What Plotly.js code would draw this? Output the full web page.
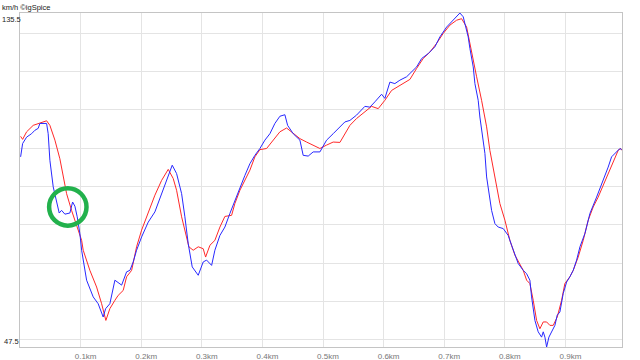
<!DOCTYPE html>
<html>
<head>
<meta charset="utf-8">
<script src="https://cdn.plot.ly/plotly-3.0.1.min.js"></script>
<style>html,body{margin:0;padding:0;background:#fff;}#chart{width:640px;height:360px;}</style>
</head>
<body>
<div id="chart"></div>
<script>
// Blue series: distance (km) and speed (km/h)
var blueDist = [0.001,0.0043,0.0109,0.0191,0.0246,0.0300,0.0328,0.0439,0.0465,0.0493,0.0548,0.0604,0.0647,0.0686,0.0741,0.0823,0.0868,0.0906,0.0944,0.0988,
0.1017,0.1099,0.1208,0.1290,0.1373,0.1413,0.1483,0.1566,0.1620,0.1677,0.1759,0.1814,0.1868,0.1924,0.2007,0.2116,0.2226,0.2337,0.2446,0.2512,
0.2584,0.2667,0.2721,0.2776,0.2842,0.2941,0.3023,0.3079,0.3162,0.3216,0.3299,0.3381,0.3464,0.3546,0.3629,0.3711,0.3794,0.3876,0.3959,0.4041,
0.4124,0.4206,0.4289,0.4371,0.4416,0.4508,0.4619,0.4673,0.4756,0.4838,0.4949,0.5059,0.5168,0.5279,0.5361,0.5444,0.5554,0.5691,0.5774,0.5857,
0.5967,0.6021,0.6104,0.6186,0.6269,0.6380,0.6462,0.6545,0.6627,0.6736,0.6847,0.6929,0.7040,0.7149,0.7259,0.7314,0.7396,0.7424,0.7479,0.7507,
0.7561,0.7589,0.7644,0.7672,0.7700,0.7726,0.7782,0.7837,0.7891,0.7974,0.8056,0.8112,0.8167,0.8221,0.8304,0.8360,0.8414,0.8442,0.8497,0.8551,
0.8607,0.8634,0.8662,0.8690,0.8728,0.8772,0.8827,0.8865,0.8909,0.8964,0.9020,0.9074,0.9129,0.9185,0.9240,0.9322,0.9405,0.9515,0.9624,0.9706,
0.9762,0.9845,0.9899,0.9927];
var blueSpeed = [97.6,101.1,102.8,103.7,104.6,105.1,106.4,106.4,103.7,96.7,89.7,85.3,82.8,83.5,82.5,82.8,85.7,84.6,81.8,77.4,
73.0,65.1,60.7,58.9,55.4,57.6,58.9,65.1,64.5,63.8,67.3,67.7,69.9,73.0,76.5,80.4,83.1,87.9,92.7,95.4,
93.2,87.9,81.8,74.7,68.6,66.4,69.9,70.4,69.0,73.0,76.9,79.1,82.7,86.2,89.7,92.7,95.8,98.0,99.8,102.0,
103.7,106.4,108.3,108.7,105.9,103.7,102.0,98.0,97.8,98.9,98.9,102.0,103.7,105.5,106.8,107.2,108.6,110.9,110.7,112.1,
114.1,113.0,117.3,116.9,117.8,118.7,120.0,121.3,123.5,124.8,126.6,129.2,131.8,133.6,135.5,134.5,129.2,126.2,121.3,116.9,
112.5,108.1,102.0,98.5,92.3,89.7,83.5,80.0,79.1,78.7,76.9,74.3,71.7,69.5,67.7,66.8,65.1,60.7,54.5,51.5,
50.1,51.5,50.1,47.5,50.1,51.5,53.2,55.9,56.7,61.6,64.6,66.0,67.7,70.4,73.9,77.4,82.7,87.0,91.4,94.9,
97.6,98.9,99.8,99.5];

// Red series: distance (km) and speed (km/h)
var redDist = [0.001,0.0043,0.0109,0.0218,0.0328,0.0439,0.0493,0.0576,0.0658,0.0713,0.0769,0.0851,0.0934,0.1017,0.1043,0.1153,0.1264,0.1347,0.1417,0.1483,
0.1566,0.1620,0.1703,0.1759,0.1842,0.1924,0.2007,0.2116,0.2226,0.2337,0.2446,0.2528,0.2584,0.2667,0.2749,0.2787,0.2858,0.2941,0.3023,0.3063,
0.3134,0.3216,0.3299,0.3381,0.3492,0.3546,0.3629,0.3711,0.3794,0.3876,0.3959,0.4069,0.4178,0.4289,0.4399,0.4508,0.4619,0.4729,0.4838,0.4949,
0.5059,0.5168,0.5279,0.5361,0.5444,0.5554,0.5691,0.5802,0.5911,0.6021,0.6132,0.6241,0.6351,0.6434,0.6545,0.6653,0.6764,0.6875,0.6983,0.7094,
0.7205,0.7287,0.7370,0.7452,0.7535,0.7617,0.7700,0.7754,0.7837,0.7919,0.8002,0.8084,0.8167,0.8249,0.8304,0.8360,0.8414,0.8469,0.8525,0.8579,
0.8634,0.8690,0.8744,0.8799,0.8865,0.8937,0.8991,0.9074,0.9129,0.9211,0.9294,0.9376,0.9459,0.9541,0.9624,0.9706,0.9789,0.9871,0.9911,0.9934];
var redSpeed = [103.0,102.2,104.2,105.9,106.5,107.1,105.9,102.0,97.1,92.3,87.9,83.5,79.6,75.6,73.0,67.7,63.3,58.9,54.5,57.6,
59.8,61.1,62.4,66.0,67.7,73.9,78.3,83.1,87.5,91.4,94.3,91.9,88.8,81.8,76.9,73.9,73.0,73.9,73.4,71.2,
74.3,75.6,79.1,81.9,82.2,85.3,88.8,91.4,94.1,97.6,99.5,99.8,102.0,104.2,105.2,103.7,102.4,101.5,100.7,99.8,
100.7,101.5,101.4,103.7,105.9,107.7,109.4,110.9,110.3,112.5,115.1,116.2,117.3,118.0,120.9,123.5,125.2,127.5,130.1,132.3,
133.6,134.0,131.8,124.8,118.7,112.5,105.5,99.3,92.3,85.3,80.9,75.6,71.7,69.5,67.7,65.1,64.2,59.8,54.5,52.3,
54.1,54.1,53.2,53.2,55.4,59.8,64.2,66.0,67.7,71.2,75.6,80.9,84.4,87.0,90.1,93.2,96.3,99.3,99.8,99.3];

// Axis labels and grid
var xTickVals = [0.1,0.2,0.3,0.4,0.5,0.6,0.7,0.8,0.9];
var xTickText = ["0.1km","0.2km","0.3km","0.4km","0.5km","0.6km","0.7km","0.8km","0.9km"];
var yGridVals = [49.5,59.6,69.6,79.8,89.8,99.8,110.0,120.0,130.1];
var yMin = 47.5, yMax = 135.5;
var yMaxLabel = "135.5", yMinLabel = "47.5";
var unitLabel = "km/h \u00A9igSpice";
var xMax = 0.9934;
// highlighted point (green circle)
var markX = 0.0789, markY = 84.4;

var fnt = "Liberation Sans Narrow, Arial Narrow, Liberation Sans, Arial, sans-serif";
var leftEdge = -19/602;

var traces = [
  {x: redDist, y: redSpeed, type: 'scatter', mode: 'lines', line: {color: 'rgb(255,40,40)', width: 1}, hoverinfo: 'skip'},
  {x: blueDist, y: blueSpeed, type: 'scatter', mode: 'lines', line: {color: 'rgb(40,40,255)', width: 1}, hoverinfo: 'skip'}
];

var layout = {
  width: 640, height: 360,
  margin: {l: 20, r: 18, t: 13, b: 13, pad: 0},
  paper_bgcolor: '#ffffff', plot_bgcolor: '#ffffff',
  showlegend: false,
  font: {family: fnt, size: 8, color: '#555'},
  xaxis: {
    range: [0, xMax], tickvals: xTickVals, ticktext: xTickText,
    showgrid: true, gridcolor: '#e4e4e4', gridwidth: 1,
    showline: true, mirror: true, linecolor: '#c4c4c4', linewidth: 1,
    zeroline: false, ticks: '', ticklabelshift: 5, ticklabelstandoff: 1,
    tickfont: {family: fnt, size: 8, color: '#777'}
  },
  yaxis: {
    range: [yMin, yMax], tickvals: yGridVals, showticklabels: false,
    showgrid: true, gridcolor: '#e4e4e4', gridwidth: 1,
    showline: true, mirror: true, linecolor: '#c4c4c4', linewidth: 1,
    zeroline: false, ticks: ''
  },
  annotations: [
    {xref: 'paper', yref: 'paper', x: leftEdge, y: 1, xanchor: 'left', yanchor: 'top', text: yMaxLabel, showarrow: false,
     font: {family: fnt, size: 7.5, color: '#222'}, borderpad: 0, yshift: -1},
    {xref: 'paper', yref: 'paper', x: leftEdge, y: 0, xanchor: 'left', yanchor: 'bottom', text: yMinLabel, showarrow: false,
     font: {family: fnt, size: 7.5, color: '#222'}, borderpad: 0, xshift: 2},
    {xref: 'paper', yref: 'paper', x: leftEdge, y: 1, xanchor: 'left', yanchor: 'bottom', text: unitLabel, showarrow: false,
     font: {family: fnt, size: 7.5, color: '#222'}, borderpad: 0}
  ],
  shapes: [
    {type: 'circle', xref: 'x', yref: 'y', xsizemode: 'pixel', ysizemode: 'pixel', xanchor: markX, yanchor: markY,
     x0: -18.7, x1: 18.7, y0: -18.7, y1: 18.7, line: {color: '#22b14c', width: 4.5}}
  ]
};

Plotly.newPlot('chart', traces, layout, {displayModeBar: false, staticPlot: true});
</script>
</body>
</html>
